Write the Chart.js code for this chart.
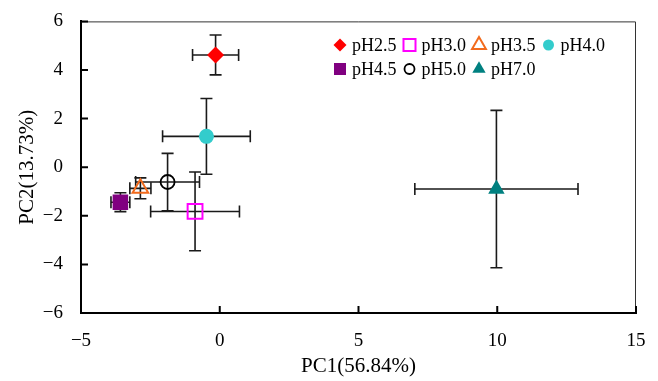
<!DOCTYPE html>
<html>
<head>
<meta charset="utf-8">
<script src="https://cdn.jsdelivr.net/npm/chart.js@4.4.0/dist/chart.umd.min.js"></script>
<style>
  body { margin: 0; background: #fff; }
  #wrap { width: 658px; height: 381px; }
</style>
</head>
<body>
<div id="wrap"><canvas id="myChart" width="658" height="381"></canvas></div>
<script>
// PCA scores (mean +/- sd) per pH group
const groups = ['pH2.5', 'pH3.0', 'pH3.5', 'pH4.0', 'pH4.5', 'pH5.0', 'pH7.0'];
const pc1 = [-0.15, -0.89, -2.86, -0.48, -3.58, -1.88, 9.97];
const pc2 = [4.62, -1.82, -0.87, 1.27, -1.44, -0.61, -0.90];
const pc1Err = [0.83, 1.60, 0.38, 1.58, 0.34, 1.15, 2.94];
const pc2Err = [0.82, 1.62, 0.43, 1.56, 0.39, 1.18, 3.24];
const xTicks = [-5, 0, 5, 10, 15];
const yTicks = [-6, -4, -2, 0, 2, 4, 6];

const styles = [
  { shape: 'rectRot', fill: '#ff0000', line: '#ff0000', r: 8.5, lr: 6.5, bw: 0 },
  { shape: 'rect', fill: 'rgba(0,0,0,0)', line: '#ff00ff', r: 10.5, lr: 8.5, bw: 2 },
  { shape: 'triangle', fill: 'rgba(0,0,0,0)', line: '#f26b1d', r: 9, lr: 8, bw: 2 },
  { shape: 'circle', fill: '#33cccc', line: '#33cccc', r: 7.5, lr: 5.5, bw: 0 },
  { shape: 'rect', fill: '#800080', line: '#800080', r: 11, lr: 8.5, bw: 0 },
  { shape: 'circle', fill: 'rgba(0,0,0,0)', line: '#000000', r: 7, lr: 5, bw: 1.8 },
  { shape: 'triangle', fill: '#008080', line: '#008080', r: 9.5, lr: 7.7, bw: 0 }
];

const serif = '"Liberation Serif", "Times New Roman", serif';
const minus = v => String(v).replace('-', '\u2212');

const datasets = groups.map((g, i) => ({
  label: g,
  data: [{ x: pc1[i], y: pc2[i] }],
  pointStyle: styles[i].shape,
  pointRadius: styles[i].r,
  pointHoverRadius: styles[i].r,
  backgroundColor: styles[i].fill,
  borderColor: styles[i].line,
  pointBorderWidth: styles[i].bw
}));

// error bars drawn behind the markers
const errorBars = {
  id: 'errorBars',
  beforeDatasetsDraw(chart) {
    const { ctx, scales: { x, y } } = chart;
    const cap = 6;
    ctx.save();
    ctx.strokeStyle = '#1a1a1a';
    ctx.lineWidth = 1.6;
    groups.forEach((g, i) => {
      const px = x.getPixelForValue(pc1[i]);
      const py = y.getPixelForValue(pc2[i]);
      const x0 = x.getPixelForValue(pc1[i] - pc1Err[i]);
      const x1 = x.getPixelForValue(pc1[i] + pc1Err[i]);
      const y0 = y.getPixelForValue(pc2[i] - pc2Err[i]);
      const y1 = y.getPixelForValue(pc2[i] + pc2Err[i]);
      ctx.beginPath();
      ctx.moveTo(x0, py); ctx.lineTo(x1, py);
      ctx.moveTo(x0, py - cap); ctx.lineTo(x0, py + cap);
      ctx.moveTo(x1, py - cap); ctx.lineTo(x1, py + cap);
      ctx.moveTo(px, y0); ctx.lineTo(px, y1);
      ctx.moveTo(px - cap, y0); ctx.lineTo(px + cap, y0);
      ctx.moveTo(px - cap, y1); ctx.lineTo(px + cap, y1);
      ctx.stroke();
    });
    ctx.restore();
  }
};

// thin frame, inward tick marks and the in-plot legend
const extras = {
  id: 'extras',
  afterDraw(chart) {
    const { ctx, chartArea: a, scales: { x, y } } = chart;
    ctx.save();
    ctx.strokeStyle = '#333';
    ctx.lineWidth = 1;
    ctx.beginPath();
    ctx.moveTo(a.left, a.top + 0.5); ctx.lineTo(a.right - 0.5, a.top + 0.5);
    ctx.lineTo(a.right - 0.5, a.bottom);
    ctx.stroke();

    ctx.strokeStyle = '#000';
    ctx.lineWidth = 2;
    ctx.beginPath();
    x.ticks.forEach(t => {
      const p = x.getPixelForValue(t.value);
      ctx.moveTo(p, a.bottom); ctx.lineTo(p, a.bottom - 7);
    });
    y.ticks.forEach(t => {
      const p = y.getPixelForValue(t.value);
      ctx.moveTo(a.left, p); ctx.lineTo(a.left + 7, p);
    });
    ctx.stroke();

    // legend: two rows, four then three items
    ctx.font = '18px ' + serif;
    ctx.textAlign = 'left';
    ctx.textBaseline = 'middle';
    const rows = [[0, 1, 2, 3], [4, 5, 6]];
    const rowY = [45, 69];
    rows.forEach((row, ri) => {
      let cx = 334;
      row.forEach(i => {
        const s = styles[i];
        ctx.fillStyle = s.fill;
        ctx.strokeStyle = s.line;
        ctx.lineWidth = s.bw;
        Chart.helpers.drawPoint(ctx, { pointStyle: s.shape, radius: s.lr, rotation: 0, borderWidth: s.bw }, cx + 6, rowY[ri]);
        ctx.fillStyle = '#000';
        ctx.fillText(groups[i], cx + 18, rowY[ri] + 1);
        cx += 18 + ctx.measureText(groups[i]).width + 7;
      });
    });
    ctx.restore();
  }
};

const ctx = document.getElementById('myChart').getContext('2d');
new Chart(ctx, {
  type: 'scatter',
  data: { datasets },
  options: {
    responsive: false,
    animation: false,
    events: [],
    layout: { padding: { left: 0, top: 16, right: 22, bottom: 0 } },
    plugins: { legend: { display: false }, tooltip: { enabled: false } },
    scales: {
      x: {
        type: 'linear',
        min: xTicks[0],
        max: xTicks[xTicks.length - 1],
        afterBuildTicks: s => { s.ticks = xTicks.map(v => ({ value: v })); },
        afterFit: s => { s.height = 68; },
        grid: { display: false },
        border: { display: true, color: '#000', width: 2 },
        ticks: { color: '#000', padding: 9, font: { family: serif, size: 19 }, callback: minus },
        title: {
          display: true,
          text: 'PC1(56.84%)',
          color: '#000',
          font: { family: serif, size: 21 },
          padding: { top: 0, bottom: 2 }
        }
      },
      y: {
        type: 'linear',
        min: yTicks[0],
        max: yTicks[yTicks.length - 1],
        afterBuildTicks: s => { s.ticks = yTicks.map(v => ({ value: v })); },
        afterFit: s => { s.width = 81; },
        grid: { display: false },
        border: { display: true, color: '#000', width: 2 },
        ticks: { color: '#000', padding: 10, font: { family: serif, size: 19 }, callback: minus },
        title: {
          display: true,
          text: 'PC2(13.73%)',
          color: '#000',
          font: { family: serif, size: 21 },
          padding: { top: 15, bottom: 0 }
        }
      }
    }
  },
  plugins: [errorBars, extras]
});
</script>
</body>
</html>
